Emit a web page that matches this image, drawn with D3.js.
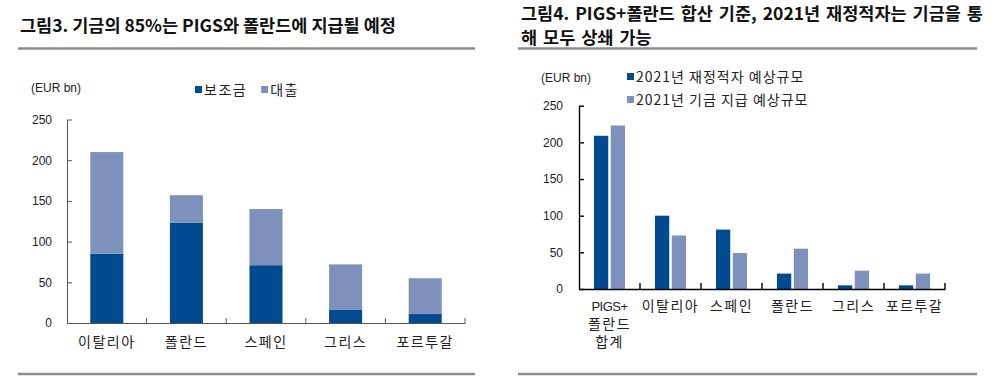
<!DOCTYPE html>
<html><head><meta charset="utf-8">
<script src="https://cdn.jsdelivr.net/npm/d3@7"></script>
<style>
body{margin:0;background:#fff;}
svg{display:block;}
text{font-family:"Liberation Sans",Arial,sans-serif;}
.kr{font-family:"Noto Sans CJK KR","Noto Sans",sans-serif;}
</style></head>
<body>
<svg id="c" width="1000" height="378"></svg>
<script>
// ---- Data: left chart (stacked) ----
const leftCategories = ["이탈리아","폴란드","스페인","그리스","포르투갈"];
const grants = [85, 123, 71, 16, 11];        // 보조금
const loans  = [125, 34, 69, 56, 44];         // 대출
const leftSeries = ["보조금","대출"];
const leftTicks = [0,50,100,150,200,250];

// ---- Data: right chart (grouped) ----
const rightCategories = ["PIGS+\n폴란드\n합계","이탈리아","스페인","폴란드","그리스","포르투갈"];
const deficit2021 = [209, 100, 81, 21, 5, 5];   // 2021년 재정적자 예상규모
const fund2021    = [223, 73, 49, 55, 25, 21];  // 2021년 기금 지급 예상규모
const rightSeries = ["2021년 재정적자 예상규모","2021년 기금 지급 예상규모"];
const rightTicks = [0,50,100,150,200,250];

const titleLeft = "그림3. 기금의 85%는 PIGS와 폴란드에 지급될 예정";
const titleRight = ["그림4. PIGS+폴란드 합산 기준, 2021년 재정적자는 기금을 통","해 모두 상쇄 가능"];
const unitLabel = "(EUR bn)";

const DARK = "#004a8f", LIGHT = "#7d91bc";
const colors = [DARK, LIGHT];

const svg = d3.select("#c");

// ---------- Titles and divider lines ----------
svg.append("text").attr("class","kr").attr("x",20).attr("y",32)
  .attr("font-size",17.5).attr("font-weight",700).attr("fill","#111").text(titleLeft);
titleRight.forEach((t,i)=>{
  svg.append("text").attr("class","kr").attr("x",521).attr("y",20+i*24)
    .attr("font-size",17.5).attr("font-weight",700).attr("word-spacing","2px").attr("fill","#111").text(t);
});
[[18,475],[518,977]].forEach(([a,b])=>{
  svg.append("line").attr("x1",a).attr("x2",b).attr("y1",48.5).attr("y2",48.5)
    .attr("stroke","#8c8c8c").attr("stroke-width",2.5);
  svg.append("line").attr("x1",a).attr("x2",b).attr("y1",374).attr("y2",374)
    .attr("stroke","#8c8c8c").attr("stroke-width",2.5);
});

// ---------- Left chart ----------
{
  const x = d3.scaleBand().domain(leftCategories).range([67,465])
    .paddingInner(0.585).paddingOuter(0.2925);
  const y = d3.scaleLinear().domain([0,250]).range([323,119.5]);
  const g = svg.append("g");

  const stackData = leftCategories.map((c,i)=>({cat:c,"보조금":grants[i],"대출":loans[i]}));
  const stacked = d3.stack().keys(leftSeries)(stackData);
  g.selectAll("g.s").data(stacked).join("g").attr("fill",(d,i)=>colors[i])
    .selectAll("rect").data(d=>d).join("rect")
    .attr("x",d=>x(d.data.cat)).attr("width",x.bandwidth())
    .attr("y",d=>y(d[1])).attr("height",d=>y(d[0])-y(d[1]));

  // y axis
  const ya = g.append("g").attr("transform","translate(67,0)")
    .call(d3.axisLeft(y).tickValues(leftTicks).tickSizeInner(-5).tickSizeOuter(0).tickPadding(15));
  ya.selectAll("path,line").attr("stroke","#555");
  ya.selectAll("text").attr("font-size",12).attr("fill","#222").attr("font-family","Liberation Sans, Arial");
  // x axis
  const xa = g.append("g").attr("transform","translate(0,323)")
    .call(d3.axisBottom(x).tickSize(0).tickPadding(14));
  xa.select("path").attr("stroke","#555");
  xa.selectAll("text").attr("class","kr").attr("font-size",14).attr("letter-spacing","1.5px").attr("fill","#222");
  const bounds = leftCategories.map(c=>x(c)+x.bandwidth()/2+x.step()/2);
  g.selectAll("line.bt").data(bounds).join("line").attr("class","bt")
    .attr("x1",d=>d).attr("x2",d=>d).attr("y1",323).attr("y2",318).attr("stroke","#555");

  g.append("text").attr("x",31).attr("y",92).attr("font-size",12).attr("fill","#222").text(unitLabel);
  // legend
  const lg = g.append("g").attr("transform","translate(195,90)");
  let lx = 0;
  leftSeries.forEach((s,i)=>{
    lg.append("rect").attr("x",lx).attr("y",-4).attr("width",7).attr("height",7).attr("fill",colors[i]);
    const t = lg.append("text").attr("class","kr").attr("x",lx+9).attr("y",5).attr("font-size",14)
      .attr("letter-spacing","1.5px").attr("fill","#222").text(s);
    lx += 9 + t.node().getComputedTextLength() + 14;
  });
}

// ---------- Right chart ----------
{
  const x0 = d3.scaleBand().domain(rightCategories).range([579,945])
    .paddingInner(0.49).paddingOuter(0.245);
  const x1 = d3.scaleBand().domain(rightSeries).range([0,x0.bandwidth()]).paddingInner(0.15);
  const y = d3.scaleLinear().domain([0,250]).range([289,105.7]);
  const g = svg.append("g");
  const vals = [deficit2021, fund2021];

  rightSeries.forEach((s,si)=>{
    g.append("g").attr("fill",colors[si]).selectAll("rect")
      .data(rightCategories.map((c,i)=>({c,v:vals[si][i]})))
      .join("rect")
      .attr("x",d=>x0(d.c)+x1(s)).attr("width",x1.bandwidth())
      .attr("y",d=>y(d.v)).attr("height",d=>y(0)-y(d.v));
  });

  const ya = g.append("g").attr("transform","translate(579,0)")
    .call(d3.axisLeft(y).tickValues(rightTicks).tickSizeInner(-5).tickSizeOuter(0).tickPadding(16));
  ya.selectAll("path,line").attr("stroke","#000").attr("stroke-width",1.4);
  ya.selectAll("text").attr("font-size",12).attr("fill","#222").attr("font-family","Liberation Sans, Arial");

  const xa = g.append("g").attr("transform","translate(0,289)")
    .call(d3.axisBottom(x0).tickSize(0).tickPadding(0));
  xa.select("path").attr("stroke","#000").attr("stroke-width",1.4);
  xa.selectAll("text").each(function(d){
    const t = d3.select(this).text(null).attr("class","kr").attr("font-size",14)
      .attr("letter-spacing","1.5px").attr("fill","#222").attr("dy",null).attr("y",22);
    d.split("\n").forEach((line,i)=>{
      const ts = t.append("tspan").attr("x",0).attr("dy",i===0?0:18).text(line);
      if(/^[A-Z]/.test(line)) ts.attr("font-family","Liberation Sans, Arial").attr("font-size",13).attr("letter-spacing","-0.5px");
    });
  });
  const bounds = rightCategories.map(c=>x0(c)+x0.bandwidth()/2+x0.step()/2);
  g.selectAll("line.bt").data(bounds).join("line").attr("class","bt")
    .attr("x1",d=>d).attr("x2",d=>d).attr("y1",289).attr("y2",283).attr("stroke","#000").attr("stroke-width",1.4);

  g.append("text").attr("x",541).attr("y",82).attr("font-size",12).attr("fill","#222").text(unitLabel);
  rightSeries.forEach((s,i)=>{
    const yy = 77 + i*23;
    g.append("rect").attr("x",627).attr("y",yy-4).attr("width",7).attr("height",7).attr("fill",colors[i]);
    g.append("text").attr("class","kr").attr("x",636).attr("y",yy+5).attr("font-size",14)
      .attr("letter-spacing","1px").attr("fill","#222").text(s);
  });
}
</script>
</body></html>
